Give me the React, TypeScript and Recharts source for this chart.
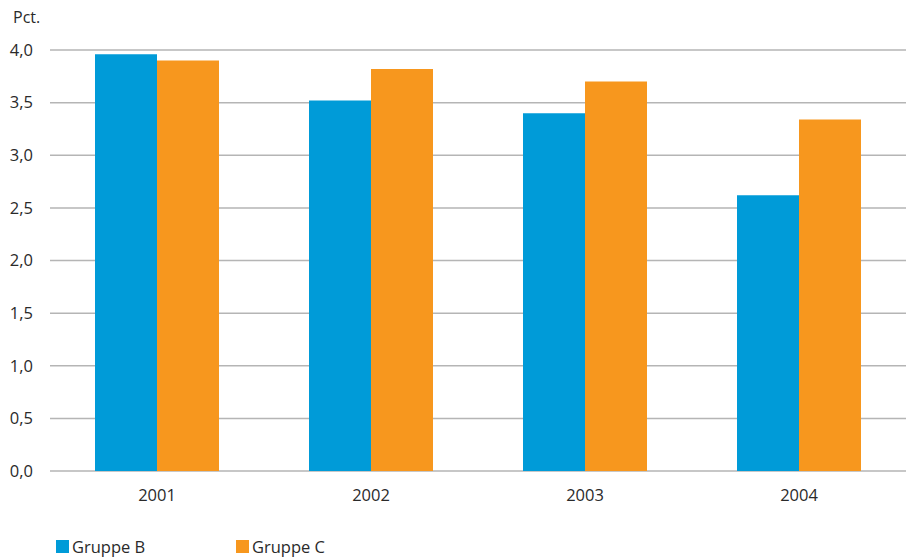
import { BarChart, Bar, XAxis, YAxis, CartesianGrid } from 'recharts';

const years = ['2001', '2002', '2003', '2004'];
const gruppeB = [3.96, 3.52, 3.4, 2.62];
const gruppeC = [3.9, 3.82, 3.7, 3.34];
const yTicks = [0, 0.5, 1, 1.5, 2, 2.5, 3, 3.5, 4];
const edgeTicks = [0, 1, 2, 3, 4];

const series = [
  { key: 'b', name: 'Gruppe B', color: '#009bd8' },
  { key: 'c', name: 'Gruppe C', color: '#f7971e' },
];

const data = years.map((year, i) => ({ year, b: gruppeB[i], c: gruppeC[i] }));

const font = '"Open Sans", "Noto Sans", sans-serif';
const textColor = '#2a2a2a';
const gridColor = '#b5b5b5';

export default function App() {
  return (
    <div style={{ position: 'absolute', left: 0, top: 0, width: 906, height: 557, fontFamily: font, background: '#fff' }}>
      <div style={{ position: 'absolute', left: 13, top: 6, fontSize: 16, color: textColor }}>Pct.</div>
      <BarChart
        width={906}
        height={557}
        data={data}
        margin={{ top: 50, right: 0, left: 0, bottom: 56 }}
        barCategoryGap={45}
        barGap={0}
      >
        <CartesianGrid vertical={false} stroke={gridColor} strokeWidth={1.5} />
        <XAxis
          xAxisId="edge"
          type="number"
          domain={[0, 4]}
          ticks={edgeTicks}
          height={0}
          stroke={gridColor}
          strokeWidth={1.5}
          tickSize={6}
          tick={{ fill: 'transparent' }}
        />
        <XAxis
          xAxisId="cat"
          dataKey="year"
          height={30}
          axisLine={false}
          tickLine={false}
          tickMargin={12}
          tick={{ fill: textColor, fontSize: 16.5, fontFamily: font }}
        />
        <YAxis
          width={50}
          domain={[0, 4]}
          ticks={yTicks}
          axisLine={false}
          tickLine={false}
          tickMargin={11}
          tickFormatter={(v: number) => v.toFixed(1).replace('.', ',')}
          tick={{ fill: textColor, fontSize: 16.5, fontFamily: font }}
        />
        {series.map(s => (
          <Bar key={s.key} xAxisId="cat" dataKey={s.key} name={s.name} fill={s.color} isAnimationActive={false} />
        ))}
      </BarChart>
      <div style={{ position: 'absolute', left: 56, top: 535, display: 'flex', fontSize: 16.5, color: textColor }}>
        {series.map(s => (
          <div key={s.key} style={{ display: 'flex', alignItems: 'center', width: 180 }}>
            <span style={{ display: 'inline-block', width: 13, height: 13, background: s.color, marginRight: 3 }} />
            {s.name}
          </div>
        ))}
      </div>
    </div>
  );
}
